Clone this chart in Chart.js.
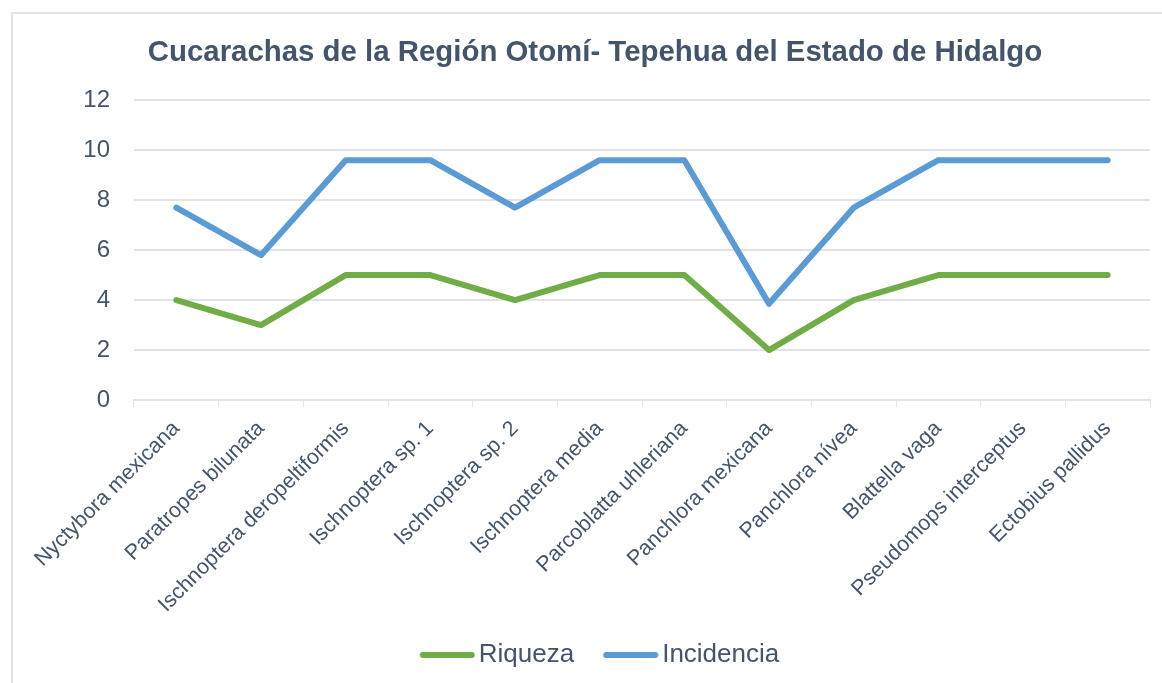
<!DOCTYPE html>
<html>
<head>
<meta charset="utf-8">
<script src="https://cdn.jsdelivr.net/npm/chart.js@4/dist/chart.umd.min.js"></script>
<style>
  html, body { margin: 0; padding: 0; background: #fff; }
  #wrap { position: relative; width: 1162px; height: 683px; overflow: hidden; }
  #frame { position: absolute; left: 11px; top: 12px; width: 1200px; height: 720px;
           border: 2px solid #E0E3E9; box-sizing: border-box; }
  #myChart { position: absolute; left: 0; top: 0; }
</style>
</head>
<body>
<div id="wrap">
  <div id="frame"></div>
  <canvas id="myChart" width="1162" height="683"></canvas>
</div>
<script>
var especies = ['Nyctybora mexicana', 'Paratropes bilunata', 'Ischnoptera deropeltiformis', 'Ischnoptera sp. 1',
 'Ischnoptera sp. 2', 'Ischnoptera media', 'Parcoblatta uhleriana', 'Panchlora mexicana', 'Panchlora nívea',
 'Blattella vaga', 'Pseudomops interceptus', 'Ectobius pallidus'];
var riqueza = [4, 3, 5, 5, 4, 5, 5, 2, 4, 5, 5, 5];
var incidencia = [7.7, 5.8, 9.6, 9.6, 7.7, 9.6, 9.6, 3.85, 7.7, 9.6, 9.6, 9.6];
var ticks_y = [0, 2, 4, 6, 8, 10, 12];

var text_color = '#44546A';
var grid_color = '#E0E3E9';
Chart.defaults.font.family = "'Liberation Sans', Arial, sans-serif";

// petit trait arrondi pour la legende (image transparente, trait decale vers le texte)
function legendLine( color )
{
	var c = document.createElement('canvas');
	c.width = 74;
	c.height = 8;
	var g = c.getContext('2d');
	g.strokeStyle = color;
	g.lineWidth = 6;
	g.lineCap = 'round';
	g.beginPath();
	g.moveTo(21.5, 4);
	g.lineTo(70.5, 4);
	g.stroke();
	return c;
}

var ctx = document.getElementById('myChart').getContext('2d');

var myLineChart = new Chart(ctx, {
	type: 'line',
	data: {
		labels: especies,
		datasets: [
			{
				label: 'Riqueza',
				data: riqueza,
				borderColor: '#70AD47',
				backgroundColor: '#70AD47',
				borderWidth: 6,
				borderCapStyle: 'round',
				borderJoinStyle: 'round',
				pointRadius: 0,
				pointStyle: legendLine('#70AD47'),
				tension: 0
			},
			{
				label: 'Incidencia',
				data: incidencia,
				borderColor: '#5B9BD5',
				backgroundColor: '#5B9BD5',
				borderWidth: 6,
				borderCapStyle: 'round',
				borderJoinStyle: 'round',
				pointRadius: 0,
				pointStyle: legendLine('#5B9BD5'),
				tension: 0
			}
		]
	},
	options: {
		responsive: false,
		animation: false,
		layout: { padding: { left: 40, right: 12, top: 0, bottom: 5 } },
		plugins: {
			title: {
				display: true,
				text: 'Cucarachas de la Región Otomí- Tepehua del Estado de Hidalgo',
				color: text_color,
				font: { size: 29.4, weight: 'bold' },
				padding: { top: 35, bottom: 30 }
			},
			legend: {
				position: 'bottom',
				labels: {
					color: text_color,
					font: { size: 26 },
					usePointStyle: true,
					pointStyleWidth: 55,
					padding: 20
				}
			},
			tooltip: { enabled: false }
		},
		scales: {
			x: {
				offset: true,
				grid: { drawOnChartArea: false, drawTicks: true, tickLength: 7, color: grid_color, offset: true },
				border: { color: grid_color, width: 2 },
				ticks: {
					color: text_color,
					font: { size: 21.5 },
					maxRotation: 45,
					minRotation: 45,
					autoSkip: false,
					padding: 9
				},
				afterFit: function(scale) { scale.height = 222; }
			},
			y: {
				min: 0,
				max: 12,
				afterBuildTicks: function(scale) {
					scale.ticks = ticks_y.map(function(v) { return { value: v }; });
				},
				grid: { color: grid_color, lineWidth: 2, drawTicks: false },
				border: { display: false },
				ticks: {
					color: text_color,
					font: { size: 24 },
					padding: 24
				},
				afterFit: function(scale) { scale.width = 94; }
			}
		}
	}
});
</script>
</body>
</html>
